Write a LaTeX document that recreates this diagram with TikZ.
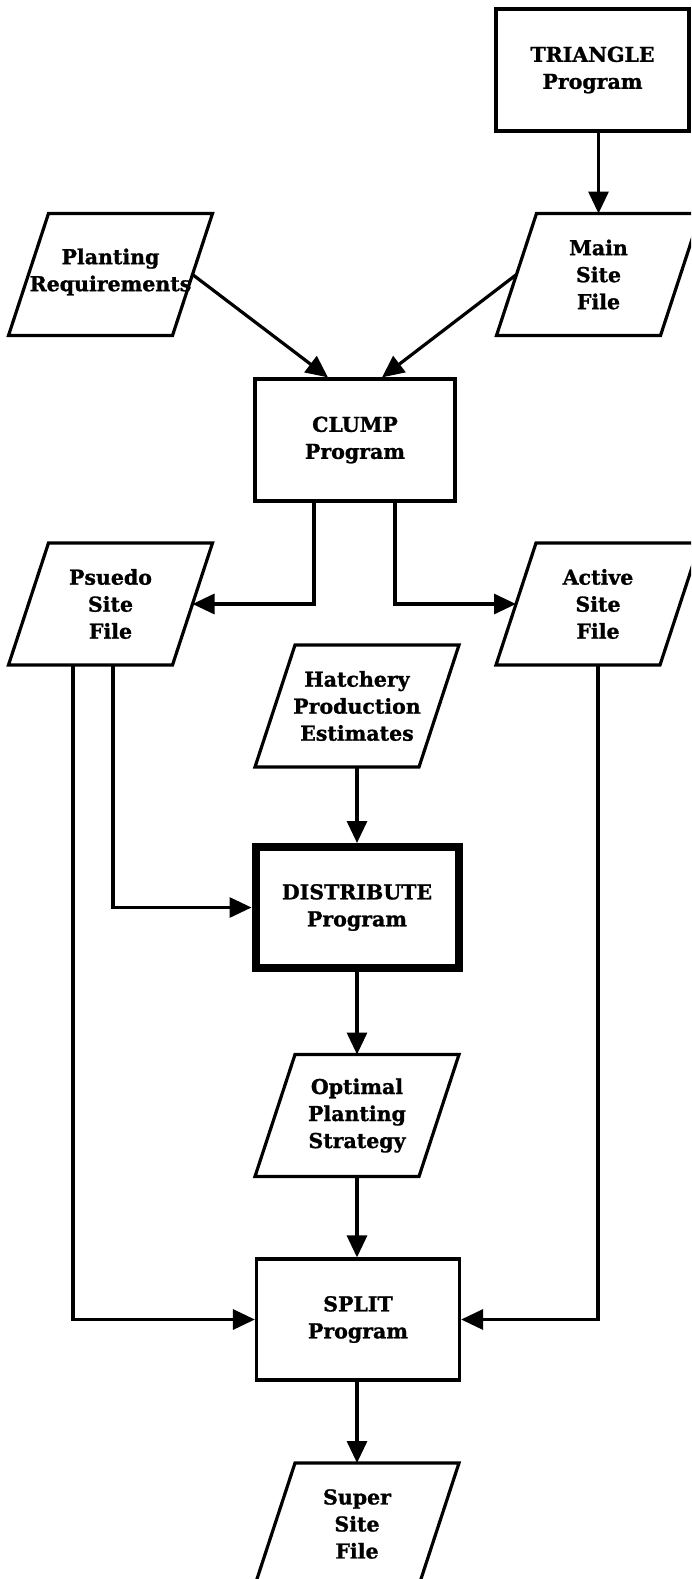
\documentclass[tikz,border=0pt]{standalone}
\usepackage{fontspec}
\setmainfont{DejaVu Serif}[BoldFeatures={FakeBold=1.2}]
\usetikzlibrary{arrows.meta,calc}
\newcommand{\dgfont}{\fontsize{20.5}{27}\selectfont\bfseries}
\tikzset{
  conn/.style={line width=3.2pt, -{Triangle[length=22pt,width=20pt]}},
  prog/.style={draw, line width=3.2pt, minimum width=200pt, minimum height=122pt,
    inner sep=0pt, align=center, font=\dgfont},
  datafile/.style={minimum width=164pt, minimum height=122pt, inner sep=0pt,
    outer sep=0pt, align=center, font=\dgfont},
  pgramline/.style={line width=3.2pt, line join=miter}
}
\newcommand{\pgram}[1]{\draw[pgramline] ([xshift=20pt]#1.north west) -- ([xshift=20pt]#1.north east) -- ([xshift=-20pt]#1.south east) -- ([xshift=-20pt]#1.south west) -- cycle;}
\begin{document}
\begin{tikzpicture}[x=1pt,y=-1pt]
\useasboundingbox (0,0) rectangle (691,1579);
\clip (0,0) rectangle (691,1579);
% program boxes
\node[prog, minimum width=193pt] (tri) at (592.5,70) {TRIANGLE\\Program};
\node[prog] (clump) at (355,440) {CLUMP\\Program};
\node[prog, line width=8pt, minimum width=203pt, minimum height=121pt] (dist) at (357,907.5) {DISTRIBUTE\\Program};
\node[prog, minimum width=203pt, minimum height=121pt] (split) at (358,1319.5) {SPLIT\\Program};
% data files
\node[datafile] (plant) at (110.5,272) {Planting\\Requirements};
\path (plant.center) ++(0,2.5) coordinate (plantc);
\node[datafile] (main) at (598.5,274.5) {Main\\Site\\File};
\node[datafile] (pseudo) at (110.5,604) {Psuedo\\Site\\File};
\node[datafile] (active) at (598,604) {Active\\Site\\File};
\node[datafile] (hatch) at (357,706) {Hatchery\\Production\\Estimates};
\node[datafile] (opt) at (357,1115.5) {Optimal\\Planting\\Strategy};
\node[datafile] (super) at (357,1524) {Super\\Site\\File};
\draw[pgramline] ([xshift=20pt,yshift=-2.5pt]plant.north west) -- ([xshift=20pt,yshift=-2.5pt]plant.north east) -- ([xshift=-20pt,yshift=-2.5pt]plant.south east) -- ([xshift=-20pt,yshift=-2.5pt]plant.south west) -- cycle;
\pgram{main}
\pgram{pseudo}
\pgram{active}
\pgram{hatch}
\pgram{opt}
\pgram{super}
% connectors
\draw[conn] (tri.south -| main.north) -- (main.north);
\draw[conn] ([yshift=-2.5pt]plant.east) -- ([xshift=-27pt]clump.north);
\draw[conn] (main.west) -- ([xshift=27pt]clump.north);
\draw[conn] ([xshift=-41pt]clump.south) |- (pseudo.east);
\draw[conn] ([xshift=40pt]clump.south) |- (active.west);
\draw[conn] (hatch.south) -- (dist.north);
\draw[conn] ([xshift=2.5pt]pseudo.south) |- (dist.west);
\draw[conn] ([xshift=-37.5pt]pseudo.south) |- (split.west);
\draw[conn] (dist.south) -- (opt.north);
\draw[conn] (opt.south) -- (split.north -| opt.south);
\draw[conn] (active.south) |- (split.east);
\draw[conn] (split.south -| super.north) -- (super.north);
\end{tikzpicture}
\end{document}
